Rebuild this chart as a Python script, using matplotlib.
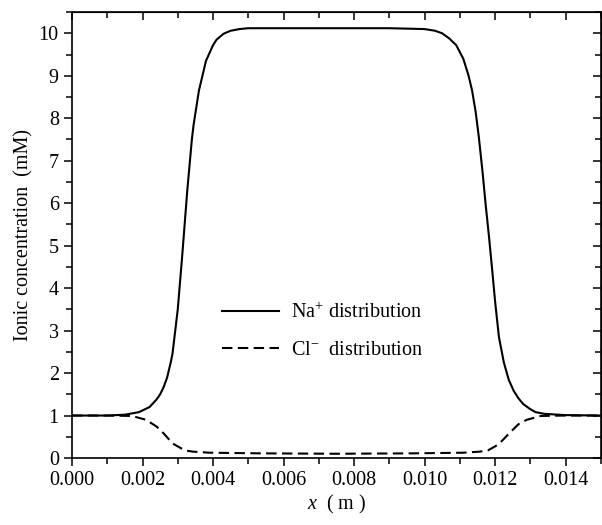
import numpy as np
import matplotlib.pyplot as plt
from matplotlib.ticker import MultipleLocator, FormatStrFormatter

plt.rcParams['font.family'] = ['Liberation Serif', 'DejaVu Serif']
plt.rcParams['mathtext.fontset'] = 'custom'
plt.rcParams['mathtext.rm'] = 'Liberation Serif'
plt.rcParams['mathtext.it'] = 'Liberation Serif:italic'

# Na+ distribution
na_x = [0.0, 0.0010, 0.0015, 0.0019, 0.0022, 0.0024, 0.0025, 0.0026, 0.0027,
        0.0028, 0.00285, 0.0030, 0.00313, 0.00327, 0.0034, 0.00345, 0.0036,
        0.0038, 0.0040, 0.0041, 0.0043, 0.0045, 0.00475, 0.0050, 0.0060,
        0.0080, 0.0090, 0.0100, 0.0103, 0.0105, 0.0107, 0.0109, 0.0111,
        0.01125, 0.01135, 0.01145, 0.01154, 0.01165, 0.01173, 0.01183, 0.01192,
        0.0120, 0.01211, 0.01225, 0.01239, 0.01253, 0.01267, 0.0128, 0.0130,
        0.01315, 0.0134, 0.0140, 0.0150]
na_y = [1.0, 1.0, 1.02, 1.08, 1.2, 1.38, 1.5, 1.67, 1.9,
        2.25, 2.45, 3.5, 4.8, 6.3, 7.5, 7.85, 8.65,
        9.35, 9.72, 9.85, 9.99, 10.06, 10.1, 10.12, 10.12,
        10.12, 10.12, 10.1, 10.06, 10.0, 9.88, 9.72, 9.4,
        9.0, 8.65, 8.15, 7.56, 6.7, 6.0, 5.2, 4.42,
        3.7, 2.85, 2.25, 1.84, 1.58, 1.4, 1.27, 1.15,
        1.08, 1.04, 1.01, 1.0]

# Cl- distribution
cl_x = [0.0, 0.0010, 0.0017, 0.0021, 0.0024, 0.0026, 0.00277, 0.0029, 0.0032,
        0.00343, 0.0039, 0.00532, 0.0075, 0.0097, 0.0111, 0.01157, 0.0118,
        0.0121, 0.0124, 0.01267, 0.0129, 0.0133, 0.0140, 0.0150]
cl_y = [1.0, 1.0, 0.99, 0.9, 0.74, 0.58, 0.42, 0.32, 0.18,
        0.15, 0.125, 0.11, 0.1, 0.11, 0.125, 0.15, 0.18,
        0.32, 0.58, 0.8, 0.9, 0.99, 1.0, 1.0]

fig = plt.figure(figsize=(6.02, 5.25), dpi=100)
ax = fig.add_axes([0.1196, 0.1276, 0.8784, 0.8494])

ax.plot(na_x, na_y, color='black', lw=1.5, label='Na$^{+}$ distribution')
ax.plot(cl_x, cl_y, color='black', lw=1.5, linestyle=(0, (5, 2.6)),
        label='Cl$^{-}$  distribution')

ax.set_xlim(0, 0.015)
ax.set_ylim(0, 10.5)
ax.xaxis.set_major_locator(MultipleLocator(0.002))
ax.xaxis.set_minor_locator(MultipleLocator(0.001))
ax.xaxis.set_major_formatter(FormatStrFormatter('%.3f'))
ax.yaxis.set_major_locator(MultipleLocator(1))
ax.yaxis.set_minor_locator(MultipleLocator(0.5))

for sp in ax.spines.values():
    sp.set_linewidth(1.2)

# left/bottom ticks point out, top/right point in
ax.tick_params(which='both', direction='out', top=False, right=False,
               labelsize=14.5, width=1.1)
ax.tick_params(which='major', length=6)
ax.tick_params(which='minor', length=4)
ax2 = ax.secondary_xaxis('top')
ax2.xaxis.set_major_locator(MultipleLocator(0.002))
ax2.xaxis.set_minor_locator(MultipleLocator(0.001))
ax2.tick_params(which='both', direction='in', labeltop=False, width=1.1)
ax2.tick_params(which='major', length=6)
ax2.tick_params(which='minor', length=4)
ax3 = ax.secondary_yaxis('right')
ax3.yaxis.set_major_locator(MultipleLocator(1))
ax3.yaxis.set_minor_locator(MultipleLocator(0.5))
ax3.tick_params(which='both', direction='in', labelright=False, width=1.1)
ax3.tick_params(which='major', length=6)
ax3.tick_params(which='minor', length=4)

ax.set_xlabel('$x$  ( m )', fontsize=14.5, labelpad=2)
ax.set_ylabel('Ionic concentration  (mM)', fontsize=14.5, labelpad=4)

ax.legend(loc='upper left', bbox_to_anchor=(0.25, 0.388), frameon=False,
          fontsize=14.5, handlelength=2.8, handletextpad=0.6, labelspacing=0.9)

fig.savefig('out.png', dpi=100)
